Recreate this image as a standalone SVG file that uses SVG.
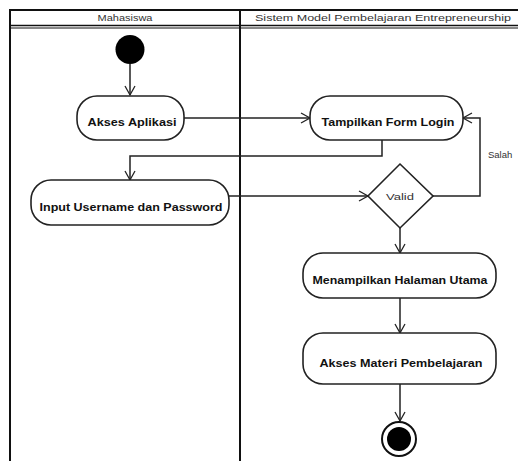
<svg xmlns="http://www.w3.org/2000/svg" width="518" height="461" viewBox="0 0 518 461">
<style>
.frame{fill:none;stroke:#111;stroke-width:2}
.node{fill:#fff;stroke:#222;stroke-width:1.6}
.lbl{font-family:"Liberation Sans",Arial,sans-serif;font-size:11px;font-weight:bold;fill:#111;text-anchor:middle}
.hdr{font-family:"Liberation Sans",Arial,sans-serif;font-size:9.5px;fill:#333;text-anchor:middle}
.sm{font-family:"Liberation Sans",Arial,sans-serif;font-size:9.5px;fill:#333}
.edge{fill:none;stroke:#222;stroke-width:1.5}
</style>
<defs>
<marker id="arr" markerWidth="12" markerHeight="12" refX="10" refY="6" orient="auto" markerUnits="userSpaceOnUse">
<path d="M1,1 L10,6 L1,11" fill="none" stroke="#222" stroke-width="1.3"/>
</marker>
</defs>
<rect width="518" height="461" fill="#fff"/>
<g id="swimlanes">
<path class="frame" d="M10,470 V10 H530"/>
<line x1="10" y1="25.5" x2="530" y2="25.5" stroke="#111" stroke-width="1.5"/>
<line x1="10" y1="28" x2="530" y2="28" stroke="#111" stroke-width="1.2"/>
<line x1="240" y1="10" x2="240" y2="470" stroke="#111" stroke-width="2"/>
<text class="hdr" x="125" y="21" textLength="55" lengthAdjust="spacingAndGlyphs">Mahasiswa</text>
<text class="hdr" x="383" y="21" textLength="256" lengthAdjust="spacingAndGlyphs">Sistem Model Pembelajaran Entrepreneurship</text>
</g>
<g id="connectors">
<line class="edge" x1="130" y1="64" x2="130" y2="95" marker-end="url(#arr)"/>
<line class="edge" x1="184" y1="118" x2="310" y2="118" marker-end="url(#arr)"/>
<path class="edge" d="M382,140 V156 H130 V180" marker-end="url(#arr)"/>
<line class="edge" x1="229" y1="196" x2="368" y2="196" marker-end="url(#arr)"/>
<path class="edge" d="M433,196 H480 V118 H463" marker-end="url(#arr)"/>
<line class="edge" x1="400" y1="228" x2="400" y2="253" marker-end="url(#arr)"/>
<line class="edge" x1="400" y1="298" x2="400" y2="333" marker-end="url(#arr)"/>
<line class="edge" x1="400" y1="384" x2="400" y2="421" marker-end="url(#arr)"/>
<text class="sm" x="488" y="158">Salah</text>
</g>
<g id="start"><circle cx="130" cy="49.5" r="14.5" fill="#000"/></g>
<g id="akses-aplikasi">
<rect class="node" x="77" y="96" width="107" height="44" rx="20"/>
<text class="lbl" x="132" y="126" textLength="89" lengthAdjust="spacingAndGlyphs">Akses Aplikasi</text>
</g>
<g id="input-username">
<rect class="node" x="31" y="180" width="198" height="45" rx="20"/>
<text class="lbl" x="131" y="211" textLength="183" lengthAdjust="spacingAndGlyphs">Input Username dan Password</text>
</g>
<g id="tampilkan-form-login">
<rect class="node" x="310" y="96" width="153" height="44" rx="20"/>
<text class="lbl" x="388" y="126" textLength="133" lengthAdjust="spacingAndGlyphs">Tampilkan Form Login</text>
</g>
<g id="valid">
<path class="node" d="M400,164 L433,196 L400,228 L368,196 Z"/>
<text class="sm" x="400" y="200" text-anchor="middle" textLength="28" lengthAdjust="spacingAndGlyphs">Valid</text>
</g>
<g id="menampilkan-halaman-utama">
<rect class="node" x="303" y="253" width="193" height="45" rx="20"/>
<text class="lbl" x="400" y="284" textLength="175" lengthAdjust="spacingAndGlyphs">Menampilkan Halaman Utama</text>
</g>
<g id="akses-materi">
<rect class="node" x="303" y="333" width="193" height="51" rx="20"/>
<text class="lbl" x="401" y="367" textLength="163" lengthAdjust="spacingAndGlyphs">Akses Materi Pembelajaran</text>
</g>
<g id="end">
<circle cx="399" cy="439" r="17" fill="#fff" stroke="#111" stroke-width="2"/>
<circle cx="399" cy="439" r="12" fill="#000"/>
</g>
</svg>
